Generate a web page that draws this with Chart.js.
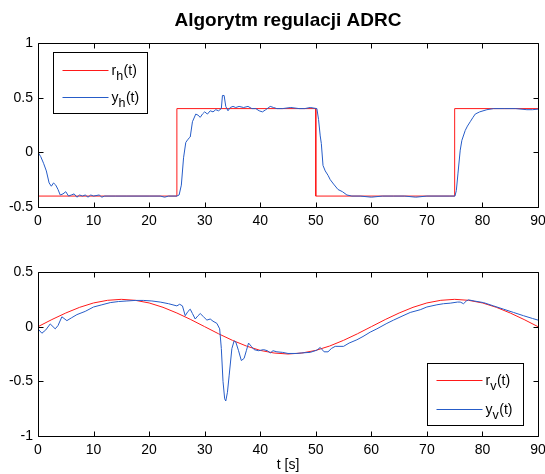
<!DOCTYPE html>
<html>
<head>
<meta charset="utf-8">
<script src="https://cdn.jsdelivr.net/npm/chart.js@4/dist/chart.umd.min.js"></script>
<style>
  html, body { margin: 0; padding: 0; background: #fff; }
  body { width: 545px; height: 474px; position: relative; overflow: hidden; }
  canvas { position: absolute; left: 0; }
  #c1 { top: 0; }
  #c2 { top: 232px; }
</style>
</head>
<body>
<canvas id="c1" width="545" height="232"></canvas>
<canvas id="c2" width="545" height="242"></canvas>
<script>
// ---------------- DATA ----------------
const TITLE = 'Algorytm regulacji ADRC';
const XLABEL = 't [s]';
const X_TICKS = [0, 10, 20, 30, 40, 50, 60, 70, 80, 90];
const Y_TICKS_TOP = [-0.5, 0, 0.5, 1];
const Y_TICKS_BOTTOM = [-1, -0.5, 0, 0.5];

// reference r_h(t)
const rhT = [0, 25, 25, 50, 50, 75, 75, 90];
const rhV = [-0.4, -0.4, 0.4, 0.4, -0.4, -0.4, 0.4, 0.4];

// output y_h(t)
const yhT = [0, 0.5, 1.0, 1.5, 2.0, 2.4, 2.8, 3.2, 3.6, 4.0, 4.5, 5.0, 5.5, 6.0, 6.5, 7.0, 7.5, 8.0, 8.5, 9.0, 9.5, 10, 11, 11.5, 12, 14, 16, 18, 20, 22, 22.8, 23.5, 25.0, 25.4, 25.8, 26.2, 26.6, 27.0, 27.4, 27.8, 28.4, 28.8, 29.2, 29.6, 30.0, 30.5, 31.0, 31.5, 32.0, 32.5, 33.0, 33.2, 33.5, 33.8, 34.2, 34.6, 35.1, 35.6, 36.2, 37.0, 37.8, 38.5, 39.2, 39.8, 40.4, 41.0, 41.8, 42.4, 43, 44, 45.5, 47, 48, 49, 50.2, 50.5, 50.8, 51.0, 51.3, 51.7, 52.2, 52.6, 53.2, 54.0, 54.8, 55.6, 56.5, 58, 60, 62, 64, 66, 68, 70, 72, 74, 75.05, 75.3, 75.6, 76.0, 76.3, 76.9, 77.3, 77.8, 78.3, 78.7, 79.5, 80.8, 82, 84, 86, 88, 89, 90];
const yhV = [0, -0.04, -0.1, -0.17, -0.28, -0.31, -0.28, -0.3, -0.34, -0.39, -0.38, -0.36, -0.4, -0.39, -0.38, -0.41, -0.39, -0.4, -0.39, -0.41, -0.39, -0.4, -0.39, -0.41, -0.4, -0.4, -0.4, -0.4, -0.4, -0.4, -0.41, -0.4, -0.4, -0.39, -0.3, -0.05, 0.09, 0.12, 0.14, 0.28, 0.35, 0.34, 0.32, 0.35, 0.37, 0.35, 0.38, 0.37, 0.39, 0.38, 0.40, 0.52, 0.52, 0.42, 0.38, 0.41, 0.42, 0.41, 0.42, 0.41, 0.42, 0.40, 0.40, 0.38, 0.37, 0.39, 0.42, 0.41, 0.40, 0.40, 0.41, 0.40, 0.40, 0.41, 0.40, 0.30, 0.15, 0.08, -0.12, -0.17, -0.21, -0.25, -0.29, -0.34, -0.36, -0.39, -0.40, -0.40, -0.41, -0.40, -0.40, -0.40, -0.41, -0.40, -0.40, -0.40, -0.40, -0.35, -0.19, 0.02, 0.11, 0.2, 0.24, 0.28, 0.32, 0.35, 0.37, 0.39, 0.40, 0.40, 0.40, 0.39, 0.39, 0.395];

// reference r_v(t)
const rvT = [0, 2.5, 5, 7.5, 10, 12.5, 15, 17.5, 20, 22.5, 25, 27.5, 30, 32.5, 35, 37.5, 40, 42.5, 45, 47.5, 50, 52.5, 55, 57.5, 60, 62.5, 65, 67.5, 70, 72.5, 75, 77.5, 80, 82.5, 85, 87.5, 90];
const rvV = [0, 0.065, 0.125, 0.177, 0.217, 0.241, 0.25, 0.241, 0.217, 0.177, 0.125, 0.065, 0, -0.065, -0.125, -0.177, -0.217, -0.241, -0.25, -0.241, -0.217, -0.177, -0.125, -0.065, 0, 0.065, 0.125, 0.177, 0.217, 0.241, 0.25, 0.241, 0.217, 0.177, 0.125, 0.065, 0];

// output y_v(t)
const yvT = [0, 0.7, 1.4, 2.2, 3.1, 3.6, 4.3, 5.2, 6.0, 7.0, 8.5, 10, 11.5, 13, 14.5, 16, 17.5, 19, 20.5, 22, 23.5, 25, 25.5, 26.0, 26.5, 27.0, 27.4, 27.8, 28.3, 28.8, 29.2, 29.8, 30.4, 31.0, 31.5, 32.2, 32.7, 33.0, 33.3, 33.6, 33.8, 34.1, 34.4, 34.9, 35.3, 35.6, 36.1, 36.6, 37.1, 37.5, 37.9, 38.4, 38.9, 39.7, 40.6, 41.3, 41.8, 42.3, 43, 44, 45, 46.6, 47.5, 49, 50.2, 50.8, 51.5, 52.2, 52.8, 53.5, 55, 56, 57.4, 58.5, 59.8, 61, 62.8, 64, 65.7, 67, 68.8, 70, 71.8, 73, 74.2, 75.5, 76.0, 76.6, 77.1, 77.5, 78.5, 80.2, 82, 83.8, 85.6, 87.4, 89, 90];
const yvV = [-0.02, -0.06, -0.03, 0.025, -0.02, 0.01, 0.09, 0.055, 0.08, 0.11, 0.14, 0.18, 0.2, 0.22, 0.23, 0.235, 0.24, 0.24, 0.235, 0.225, 0.21, 0.19, 0.205, 0.19, 0.10, 0.14, 0.16, 0.12, 0.07, 0.1, 0.12, 0.09, 0.06, 0.07, 0.05, 0.03, -0.02, -0.2, -0.5, -0.66, -0.68, -0.6, -0.45, -0.2, -0.13, -0.14, -0.22, -0.31, -0.29, -0.22, -0.15, -0.18, -0.21, -0.22, -0.21, -0.22, -0.24, -0.22, -0.23, -0.235, -0.245, -0.245, -0.24, -0.235, -0.215, -0.19, -0.23, -0.23, -0.2, -0.18, -0.18, -0.15, -0.12, -0.09, -0.05, -0.02, 0.03, 0.06, 0.1, 0.13, 0.155, 0.18, 0.2, 0.21, 0.215, 0.225, 0.225, 0.21, 0.235, 0.245, 0.235, 0.22, 0.19, 0.16, 0.13, 0.1, 0.075, 0.06];

// legend labels: [main, subscript, suffix]
const LEG_TOP = [['r', 'h', '(t)'], ['y', 'h', '(t)']];
const LEG_BOTTOM = [['r', 'v', '(t)'], ['y', 'v', '(t)']];

// ---------------- STYLE ----------------
const RED = 'rgb(255,25,25)';
const BLUE = 'rgb(38,92,200)';
const FONT = "'Liberation Sans', Arial, sans-serif";
Chart.defaults.font.family = FONT;
Chart.defaults.font.size = 14;
Chart.defaults.color = '#000';

const toXY = (T, V) => T.map((t, i) => ({ x: t, y: V[i] }));

// MATLAB-like box with inward ticks on all four sides
const boxAxes = {
  id: 'boxAxes',
  afterDatasetsDraw(chart) {
    const { ctx, chartArea: a, scales } = chart;
    const L = Math.round(a.left) + 0.5, R = Math.round(a.right) + 0.5;
    const T = Math.round(a.top) + 0.5, B = Math.round(a.bottom) + 0.5;
    const len = 5;
    ctx.save();
    ctx.strokeStyle = '#000';
    ctx.lineWidth = 1;
    ctx.beginPath();
    ctx.rect(L, T, R - L, B - T);
    scales.x.ticks.forEach(tk => {
      const px = Math.round(scales.x.getPixelForValue(tk.value)) + 0.5;
      ctx.moveTo(px, B); ctx.lineTo(px, B - len);
      ctx.moveTo(px, T); ctx.lineTo(px, T + len);
    });
    scales.y.ticks.forEach(tk => {
      const py = Math.round(scales.y.getPixelForValue(tk.value)) + 0.5;
      ctx.moveTo(L, py); ctx.lineTo(L + len, py);
      ctx.moveTo(R, py); ctx.lineTo(R - len, py);
    });
    ctx.stroke();
    ctx.restore();
  }
};

// boxed legend placed inside the plot area
const boxLegend = {
  id: 'boxLegend',
  afterDraw(chart, args, opts) {
    const { ctx, chartArea: a } = chart;
    const w = opts.w, h = opts.h;
    const x0 = Math.round(opts.corner === 'tl' ? a.left + opts.dx : a.right - opts.dx - w) + 0.5;
    const y0 = Math.round(opts.corner === 'tl' ? a.top + opts.dy : a.bottom - opts.dy - h) + 0.5;
    ctx.save();
    ctx.fillStyle = '#fff';
    ctx.fillRect(x0, y0, w, h);
    ctx.strokeStyle = '#000';
    ctx.lineWidth = 1;
    ctx.strokeRect(x0, y0, w, h);
    opts.labels.forEach((lab, i) => {
      const ds = chart.data.datasets[i];
      const ly = Math.round(y0 + opts.rows[i]) + 0.5;
      ctx.strokeStyle = ds.borderColor;
      ctx.beginPath();
      ctx.moveTo(x0 + 9, ly); ctx.lineTo(x0 + 55, ly);
      ctx.stroke();
      ctx.fillStyle = '#000';
      ctx.textBaseline = 'alphabetic';
      ctx.textAlign = 'left';
      let tx = x0 + 58;
      const base = ly + 4.5;
      ctx.font = '14px ' + FONT;
      ctx.fillText(lab[0], tx, base); tx += ctx.measureText(lab[0]).width;
      ctx.font = '12.5px ' + FONT;
      ctx.fillText(lab[1], tx, base + 4.5); tx += ctx.measureText(lab[1]).width;
      ctx.font = '14px ' + FONT;
      ctx.fillText(lab[2], tx + 0.5, base);
    });
    ctx.restore();
  }
};

function makeChart(id, cfg) {
  const { dsA, dsB, ymin, ymax, yTicks, xHeight, padTop, title, xTitle, legend } = cfg;
  return new Chart(document.getElementById(id), {
    type: 'line',
    data: {
      datasets: [
        { data: dsA, borderColor: RED, borderWidth: 1, pointRadius: 0, tension: 0, order: 1 },
        { data: dsB, borderColor: BLUE, borderWidth: 1, pointRadius: 0, tension: 0, order: 0 }
      ]
    },
    options: {
      responsive: false,
      animation: false,
      events: [],
      layout: { padding: { top: padTop, left: 0, right: 0, bottom: 0 } },
      plugins: {
        legend: { display: false },
        tooltip: { enabled: false },
        title: title ? {
          display: true, text: title, fullSize: false,
          font: { size: 19, weight: 'bold', family: FONT, lineHeight: 1.2 },
          padding: { top: 9.6, bottom: 10.6 }, color: '#000'
        } : { display: false },
        boxLegend: legend
      },
      scales: {
        x: {
          type: 'linear', min: 0, max: 90,
          afterBuildTicks: s => { s.ticks = X_TICKS.map(v => ({ value: v })); },
          grid: { display: false, drawTicks: false },
          border: { display: false },
          ticks: { padding: 6, maxRotation: 0, autoSkip: false, callback: v => String(v) },
          title: xTitle ? { display: true, text: xTitle, padding: { top: 0, bottom: 0 }, font: { size: 14 } } : { display: false },
          afterFit: s => { s.height = xHeight; s.paddingLeft = 0; s.paddingRight = 7; }
        },
        y: {
          type: 'linear', min: ymin, max: ymax,
          afterBuildTicks: s => { s.ticks = yTicks.map(v => ({ value: v })); },
          grid: { display: false, drawTicks: false },
          border: { display: false },
          ticks: { padding: 5, autoSkip: false, callback: v => String(v) },
          afterFit: s => { s.width = 38; }
        }
      }
    },
    plugins: [boxAxes, boxLegend]
  });
}

makeChart('c1', {
  dsA: toXY(rhT, rhV), dsB: toXY(yhT, yhV),
  ymin: -0.5, ymax: 1, yTicks: Y_TICKS_TOP,
  xHeight: 25, padTop: 0, title: TITLE, xTitle: null,
  legend: { corner: 'tl', dx: 15, dy: 9, w: 94, h: 61, rows: [17, 44.5], labels: LEG_TOP }
});

makeChart('c2', {
  dsA: toXY(rvT, rvV), dsB: toXY(yvT, yvV),
  ymin: -1, ymax: 0.5, yTicks: Y_TICKS_BOTTOM,
  xHeight: 38, padTop: 40, title: null, xTitle: XLABEL,
  legend: { corner: 'br', dx: 15, dy: 11, w: 96, h: 62, rows: [16.5, 45.5], labels: LEG_BOTTOM }
});
</script>
</body>
</html>
